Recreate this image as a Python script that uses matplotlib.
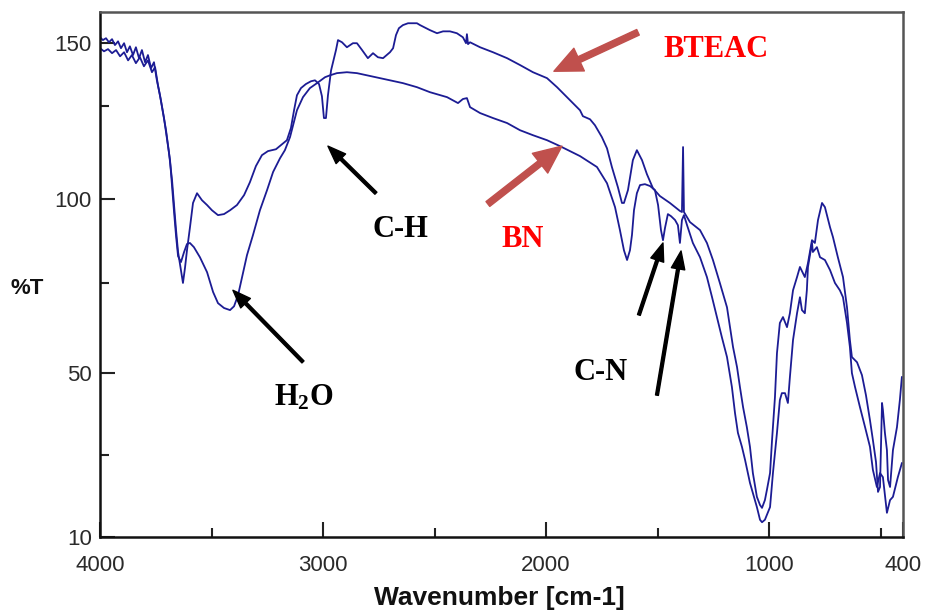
import numpy as np
import matplotlib
matplotlib.use("Agg")
import matplotlib.pyplot as plt

# ---- spectra (wavenumber in cm-1, transmittance in %T) ----
bteac_wn = [4000, 3987, 3973, 3960, 3946, 3933, 3919, 3906, 3892, 3879, 3866, 3852, 3839, 3825, 3812,
            3798, 3785, 3771, 3758, 3745, 3731, 3718, 3704, 3691, 3677, 3668, 3659, 3650, 3637, 3628,
            3619, 3610, 3597, 3583, 3565, 3543, 3520, 3498, 3471, 3444, 3417, 3386, 3354, 3328, 3301,
            3274, 3247, 3211, 3184, 3162, 3144, 3130, 3117, 3099, 3077, 3054, 3036, 3018, 3005, 2996,
            2987, 2978, 2964, 2951, 2942, 2933, 2915, 2893, 2866, 2848, 2825, 2799, 2776, 2754, 2731,
            2700, 2686, 2673, 2660, 2642, 2619, 2579, 2565, 2521, 2489, 2462, 2431, 2400, 2373, 2359,
            2355, 2350, 2341, 2296, 2238, 2175, 2117, 2059, 1996, 1951, 1915, 1880, 1848, 1835, 1803,
            1781, 1750, 1727, 1705, 1678, 1660, 1651, 1633, 1611, 1593, 1570, 1548, 1521, 1490, 1445,
            1400, 1391, 1386, 1382, 1355, 1310, 1279, 1252, 1221, 1189, 1162, 1144, 1131, 1117, 1100,
            1086, 1073, 1055, 1041, 1032, 1019, 1010, 996, 987, 974, 965, 952, 938, 920, 907,
            893, 875, 862, 840, 826, 808, 795, 781, 763, 750, 727, 714, 692, 669, 651,
            638, 629, 606, 584, 566, 548, 535, 521, 512, 503, 494, 490, 481, 472, 467,
            458, 445, 427, 414, 405]
bteac_t = [151.9, 151.0, 151.6, 150.3, 151.3, 149.4, 150.6, 148.4, 150.0, 147.1, 149.0, 146.2, 148.7, 145.2, 147.8,
           143.9, 146.2, 142.0, 143.9, 138.1, 133.3, 127.9, 122.1, 115.1, 106.1, 98.3, 91.1, 84.8, 79.6, 75.9,
           80.2, 85.3, 91.7, 98.9, 101.9, 99.7, 98.3, 96.8, 95.4, 95.7, 96.8, 98.3, 101.3, 105.4, 110.6,
           114.1, 115.4, 116.0, 117.6, 118.9, 122.8, 128.5, 133.3, 135.6, 136.9, 137.8, 138.1, 136.9, 133.0, 126.0,
           126.0, 133.3, 141.3, 145.2, 147.8, 151.0, 150.3, 148.7, 150.0, 150.0, 147.8, 145.2, 146.8, 145.5, 145.2,
           147.1, 148.4, 152.6, 154.8, 155.8, 156.4, 156.4, 155.8, 154.2, 153.2, 153.8, 153.8, 153.2, 151.9, 150.0,
           152.9, 149.7, 150.3, 148.7, 147.1, 145.2, 143.0, 140.7, 138.8, 135.9, 133.3, 130.8, 128.5, 126.6, 125.6,
           123.7, 119.9, 116.3, 110.3, 103.8, 98.9, 98.9, 102.9, 112.5, 115.7, 112.5, 108.0, 103.5, 101.0, 98.9,
           96.6, 96.3, 116.7, 96.3, 93.4, 91.1, 87.4, 82.5, 75.9, 68.9, 57.5, 51.7, 46.6, 41.7, 36.8,
           32.0, 25.6, 19.8, 17.8, 17.1, 19.0, 21.5, 25.6, 33.7, 44.1, 55.7, 64.4, 66.1, 63.2, 67.2,
           73.8, 77.6, 80.5, 77.6, 81.6, 88.2, 87.4, 94.0, 98.9, 97.7, 91.9, 89.1, 83.3, 77.6, 68.9,
           59.5, 54.6, 53.1, 49.5, 44.6, 38.5, 33.7, 28.3, 21.0, 22.2, 42.7, 41.0, 35.4, 31.2, 23.9,
           22.2, 31.2, 36.8, 43.4, 49.0]

bn_wn = [4000, 3982, 3964, 3946, 3928, 3910, 3892, 3874, 3857, 3839, 3821, 3803, 3785, 3767, 3753,
         3740, 3727, 3713, 3700, 3686, 3677, 3668, 3659, 3650, 3637, 3623, 3610, 3597, 3579, 3552,
         3520, 3493, 3471, 3444, 3417, 3399, 3381, 3363, 3341, 3314, 3283, 3251, 3224, 3193, 3171,
         3148, 3117, 3090, 3059, 3027, 2991, 2969, 2938, 2893, 2848, 2803, 2745, 2700, 2642, 2579,
         2521, 2444, 2395, 2373, 2355, 2341, 2296, 2238, 2175, 2117, 2059, 1996, 1938, 1848, 1772,
         1727, 1691, 1669, 1651, 1637, 1624, 1615, 1606, 1593, 1579, 1557, 1534, 1512, 1498, 1485,
         1476, 1467, 1454, 1440, 1422, 1409, 1400, 1391, 1382, 1368, 1342, 1310, 1279, 1256, 1234,
         1212, 1189, 1167, 1153, 1140, 1122, 1108, 1086, 1073, 1055, 1041, 1032, 1019, 996, 983,
         965, 952, 943, 929, 916, 907, 893, 875, 862, 853, 840, 831, 826, 808, 804,
         786, 772, 750, 727, 705, 683, 669, 651, 638, 629, 615, 593, 570, 548, 535,
         517, 503, 490, 472, 458, 445, 423, 405]
bn_t = [148.4, 147.4, 148.1, 146.8, 147.8, 145.8, 147.1, 144.5, 146.2, 143.6, 145.5, 142.6, 144.5, 140.7, 142.3,
        136.5, 131.7, 126.0, 119.5, 112.5, 104.2, 96.3, 89.4, 83.6, 81.9, 84.8, 87.1, 87.4, 86.2, 83.3,
        79.0, 73.3, 70.1, 68.7, 68.1, 69.2, 72.4, 77.6, 83.9, 89.7, 96.8, 102.9, 108.7, 113.1, 115.7,
        119.9, 128.5, 132.7, 135.6, 137.2, 139.1, 139.7, 140.4, 140.7, 140.4, 139.7, 138.8, 138.1, 137.2, 135.9,
        134.3, 132.7, 130.8, 132.1, 132.4, 129.5, 127.6, 126.0, 124.4, 122.1, 120.5, 118.9, 117.0, 113.8, 110.3,
        105.1, 97.7, 91.1, 85.3, 82.5, 85.3, 89.7, 96.8, 101.9, 104.5, 104.8, 104.2, 102.9, 98.3, 91.1,
        88.2, 91.7, 95.7, 95.1, 94.0, 92.5, 87.4, 94.0, 95.4, 92.5, 87.4, 83.3, 77.6, 71.8, 66.1,
        60.3, 54.6, 46.6, 40.2, 35.4, 32.0, 28.8, 23.2, 20.7, 17.3, 14.2, 13.6, 14.2, 17.3, 25.6,
        35.4, 43.4, 45.1, 45.1, 42.7, 49.0, 59.5, 67.2, 71.8, 68.1, 67.2, 73.8, 80.5, 87.4, 84.8,
        86.2, 83.3, 82.5, 79.6, 75.9, 73.8, 71.8, 64.4, 57.5, 50.0, 46.6, 41.7, 36.8, 32.0, 26.4,
        22.2, 25.6, 24.6, 15.9, 19.0, 19.8, 24.6, 28.0]

# ---- axis ticks ----
x_major = [4000, 3000, 2000, 1000, 400]
x_minor = [3500, 2500, 1500, 500]
y_major = [150, 100, 50, 10]
y_minor = [130, 76, 30]

# the instrument's %T axis is not evenly graduated: piecewise scale through its labels
pct_ref = np.array([0.0, 10.0, 50.0, 100.0, 150.0, 200.0])
pos_ref = np.array([-41.0, 0.0, 164.0, 338.0, 494.0, 650.0])


def pct_to_pos(v):
    return np.interp(v, pct_ref, pos_ref)


def pos_to_pct(p):
    return np.interp(p, pos_ref, pct_ref)


plt.rcParams['mathtext.fontset'] = 'custom'
plt.rcParams['mathtext.rm'] = 'Liberation Serif:bold'
plt.rcParams['mathtext.it'] = 'Liberation Serif:bold'
plt.rcParams['mathtext.bf'] = 'Liberation Serif:bold'

fig = plt.figure(figsize=(9.25, 6.1), dpi=100)
ax = fig.add_axes([0.1081, 0.1197, 0.8681, 0.8606])

line_col = '#1c1c94'
ax.plot(bteac_wn, bteac_t, color=line_col, lw=1.3)
ax.plot(bn_wn, bn_t, color=line_col, lw=1.3)

ax.set_yscale('function', functions=(pct_to_pos, pos_to_pct))
ax.set_xlim(4000, 400)
ax.set_ylim(10, 160)

ax.set_xticks(x_major)
ax.set_xticks(x_minor, minor=True)
ax.set_yticks(y_major)
ax.set_yticks(y_minor, minor=True)
ax.set_xticklabels([str(v) for v in x_major])
ax.set_yticklabels([str(v) for v in y_major])

for lab in ax.get_xticklabels() + ax.get_yticklabels():
    lab.set_fontfamily('Liberation Sans')
    lab.set_fontsize(16)
    lab.set_color('#2a2a2a')

ax.tick_params(which='major', direction='in', length=11, width=1.5, color='#222222')
ax.tick_params(which='minor', direction='in', length=6.5, width=1.5, color='#222222')
ax.tick_params(axis='x', which='major', pad=13)
ax.tick_params(axis='y', which='major', pad=6)

for side in ('left', 'bottom'):
    ax.spines[side].set_color('#111111')
    ax.spines[side].set_linewidth(1.8)
for side in ('top', 'right'):
    ax.spines[side].set_color('#555555')
    ax.spines[side].set_linewidth(1.8)

fig.text(499 / 925, 1 - 605 / 610, 'Wavenumber [cm-1]', ha='center', va='baseline',
         family='Liberation Sans', weight='bold', size=19, color='#111111')
fig.text(27 / 925, 1 - 288 / 610, '%T', ha='center', va='center',
         family='Liberation Sans', weight='bold', size=16, color='#111111')

# ---- annotations ----
serif = dict(family='Liberation Serif', weight='bold', size=22)
ax.text(1238, 145.5, 'BTEAC', color='#ff0000', ha='center', va='baseline', **serif)
ax.text(2104, 86.2, 'BN', color='#ff0000', ha='center', va='baseline', **serif)
ax.text(2655, 89.1, 'C-H', color='black', ha='center', va='baseline', **serif)
ax.text(3085, 42.2, 'H$_{2}$O', color='black', ha='center', va='baseline', **serif)
ax.text(1758, 48.3, 'C-N', color='black', ha='center', va='baseline', **serif)

red_arrow = dict(arrowstyle='simple,head_length=1.0,head_width=0.9,tail_width=0.22',
                 color='#c0504d', mutation_scale=20, shrinkA=0, shrinkB=0)
ax.annotate('', xy=(1965, 141.0), xytext=(1588, 153.5), arrowprops=red_arrow)
ax.annotate('', xy=(1929, 117.0), xytext=(2261, 98.6), arrowprops=red_arrow)

black_arrow = dict(arrowstyle='simple,head_length=1.0,head_width=0.75,tail_width=0.16',
                   color='black', mutation_scale=13, shrinkA=0, shrinkB=0)
ax.annotate('', xy=(2978, 117.0), xytext=(2763, 101.9), arrowprops=black_arrow)
ax.annotate('', xy=(3404, 73.8), xytext=(3090, 53.2), arrowprops=black_arrow)
ax.annotate('', xy=(1476, 87.4), xytext=(1584, 66.7), arrowprops=black_arrow)
ax.annotate('', xy=(1395, 85.1), xytext=(1503, 44.6), arrowprops=black_arrow)

fig.savefig('out.png', dpi=100)
